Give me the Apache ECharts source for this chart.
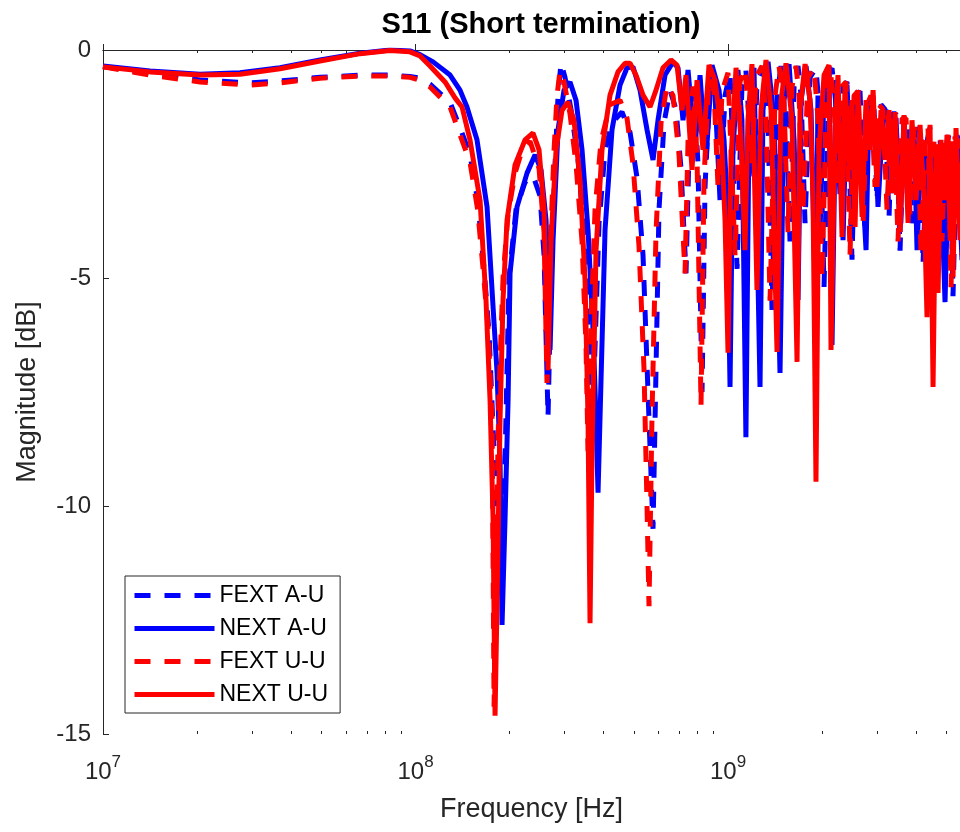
<!DOCTYPE html>
<html><head><meta charset="utf-8">
<script src="https://cdn.jsdelivr.net/npm/echarts@6/dist/echarts.min.js"></script>
<style>html,body{margin:0;padding:0;background:#fff}#c{width:960px;height:832px}</style>
</head><body><div id="c"></div>
<script>
// Frequencies in MHz, magnitudes in dB
const seriesNames = ['FEXT A-U', 'NEXT A-U', 'FEXT U-U', 'NEXT U-U'];

const fextAU = [[10,-0.36],[14.14,-0.52],[20.44,-0.66],[29.54,-0.72],[36.85,-0.68],[49.48,-0.60],[66.44,-0.55],[82.85,-0.55],[96.0,-0.58],[103.4,-0.62],[111.3,-0.75],[129.0,-1.15],[138.8,-1.70],[149.4,-2.30],[158.1,-3.30],[165.7,-4.80],[171.9,-6.20],[177.1,-8.30],[182.4,-10.0],[189.2,-12.0],[193.4,-9.0],[199.2,-5.0],[209.7,-3.5],[224.1,-2.9],[237.7,-2.75],[250.3,-3.2],[257.8,-4.5],[265.5,-8.05],[271.5,-5.0],[279.6,-2.5],[285.8,-1.0],[292.2,-0.28],[300.9,-0.6],[314.5,-1.3],[331.1,-2.4],[346.1,-4.0],[359.1,-6.5],[367.2,-8.5],[375.4,-6.5],[386.6,-3.8],[404.1,-2.2],[425.4,-1.6],[457.9,-1.36],[485.7,-1.8],[511.5,-2.8],[534.6,-4.5],[554.6,-7.5],[575.5,-10.5],[588.3,-7.0],[601.4,-3.5],[624.1,-1.6],[652.3,-0.88],[681.7,-1.3],[707.3,-2.6],[733.9,-4.9],[750.3,-2.2],[778.4,-0.9],[801.7,-2.5],[825.7,-7.5],[844.2,-3.0],[875.9,-0.7],[908.8,-1.0],[942.9,-3.3],[978.3,-1.0],[1015,-0.5],[1069,-4.8],[1108,-0.8],[1141,-0.45],[1167,-1.5],[1211,-2.8],[1238,-0.7],[1294,-0.4],[1343,-1.5],[1383,-5.7],[1435,-1.0],[1478,-0.35],[1533,-1.2],[1579,-4.2],[1627,-0.8],[1675,-0.35],[1713,-1.0],[1764,-3.8],[1830,-0.6],[1912,-0.4],[1970,-1.5],[2029,-5.2],[2104,-0.5],[2152,-0.4],[2216,-1.2],[2283,-3.2],[2334,-0.8],[2403,-0.7],[2493,-4.6],[2569,-1.0],[2645,-0.9],[2745,-4.0],[2827,-1.2],[2912,-1.0],[2998,-3.3],[3088,-1.2],[3180,-1.3],[3275,-3.7],[3349,-1.4],[3449,-1.4],[3552,-4.4],[3659,-1.5],[3768,-1.5],[3880,-3.8],[3996,-1.7],[4116,-1.9],[4208,-4.7],[4333,-2.0],[4430,-1.7],[4530,-5.2],[4631,-2.0],[4769,-1.9],[4911,-4.4],[5021,-2.0],[5133,-1.8],[5247,-5.4],[5405,-1.9],[5525,-2.0],[5690,-4.6],[5947,-2.2]];

const nextAU = [[10,-0.35],[14.14,-0.46],[20.44,-0.53],[27.45,-0.50],[36.85,-0.39],[49.48,-0.22],[66.44,-0.07],[82.85,0.0],[96.0,-0.02],[103.4,-0.10],[113.8,-0.26],[129.0,-0.55],[138.8,-0.88],[146.1,-1.25],[157.3,-1.97],[169.4,-3.44],[177.1,-5.64],[182.4,-7.08],[186.4,-8.99],[189.2,-12.61],[193.4,-10.3],[197.8,-7.68],[200.7,-4.89],[211.3,-3.44],[227.4,-2.70],[241.3,-2.30],[252.2,-2.63],[261.6,-3.73],[269.5,-6.58],[275.5,-4.17],[285.8,-1.75],[298.7,-0.88],[312.2,-0.70],[326.3,-1.10],[341.1,-2.19],[356.5,-3.95],[369.9,-6.14],[378.2,-8.11],[383.8,-9.71],[392.3,-7.24],[404.1,-3.95],[425.4,-1.75],[451.2,-0.77],[475.2,-0.39],[496.6,-0.37],[522.9,-0.88],[550.6,-1.75],[575.5,-2.41],[597.0,-1.54],[628.7,-0.55],[666.9,-0.26],[691.8,-0.39],[717.8,-1.54],[744.8,-0.44],[784.2,-2.19],[813.6,-0.55],[850.4,-2.41],[888.8,-0.33],[935.9,-0.88],[971.1,-1.97],[992.8,-3.29],[1015,-7.39],[1037,-2.19],[1076,-0.44],[1108,-1.54],[1141,-8.49],[1167,-1.75],[1211,-0.39],[1266,-7.39],[1294,-1.32],[1343,-0.26],[1404,-1.54],[1467,-7.08],[1511,-1.10],[1568,-0.31],[1627,-1.97],[1675,-5.48],[1713,-1.10],[1777,-0.35],[1844,-1.32],[1912,-6.14],[1940,-1.0],[1970,-4.01],[2029,-0.88],[2104,-0.35],[2152,-6.47],[2216,-0.66],[2283,-1.54],[2334,-4.17],[2403,-0.77],[2493,-3.29],[2569,-0.99],[2645,-1.97],[2765,-4.39],[2827,-1.10],[2933,-1.32],[3020,-3.44],[3133,-1.43],[3227,-1.32],[3349,-3.14],[3449,-1.49],[3552,-3.99],[3659,-1.64],[3796,-2.63],[3938,-1.75],[4026,-4.39],[4146,-1.97],[4270,-2.41],[4365,-5.48],[4496,-2.08],[4631,-3.29],[4769,-2.19],[4948,-5.53],[5095,-2.08],[5247,-3.73],[5405,-1.86],[5607,-4.61],[5775,-1.97],[5947,-2.85]];

const fextUU = [[10,-0.37],[14.14,-0.55],[20.44,-0.70],[29.54,-0.77],[36.85,-0.72],[49.48,-0.62],[66.44,-0.57],[82.85,-0.57],[96.0,-0.60],[103.4,-0.66],[111.3,-0.81],[129.0,-1.25],[138.8,-1.86],[149.4,-2.46],[158.1,-3.50],[164.5,-4.80],[170.7,-6.10],[175.8,-8.10],[178.4,-14.4],[181.0,-11.0],[185.0,-7.5],[190.6,-5.0],[197.8,-3.6],[208.2,-2.7],[219.2,-2.2],[232.5,-2.0],[248.5,-2.6],[257.8,-4.0],[263.5,-7.3],[269.5,-4.5],[277.5,-2.2],[283.7,-1.0],[290.1,-0.45],[298.7,-0.7],[312.2,-1.4],[326.3,-2.5],[341.1,-4.2],[351.3,-6.5],[356.5,-8.8],[364.5,-6.0],[375.4,-3.5],[392.3,-2.0],[419.2,-1.2],[451.2,-1.1],[475.2,-1.5],[496.6,-2.5],[519.0,-4.3],[538.5,-7.0],[550.6,-10.0],[558.7,-12.2],[571.2,-8.0],[588.3,-4.0],[610.4,-1.6],[638.0,-0.77],[666.9,-1.0],[697.0,-2.3],[728.5,-4.9],[744.8,-2.0],[772.7,-0.8],[795.8,-2.3],[819.6,-7.8],[838.0,-2.8],[869.4,-0.6],[902.1,-0.9],[929.0,-3.0],[957,-0.9],[1000,-0.5],[1053,-4.5],[1092,-0.7],[1133,-0.4],[1158,-1.2],[1193,-2.5],[1229,-0.6],[1285,-0.35],[1323,-1.5],[1363,-5.5],[1414,-1.0],[1456,-0.35],[1511,-1.2],[1556,-4.0],[1603,-0.8],[1650,-0.35],[1688,-1.0],[1738,-3.5],[1803,-0.6],[1885,-0.4],[1941,-1.5],[1999,-5.0],[2074,-0.5],[2120,-0.4],[2183,-1.2],[2249,-3.0],[2317,-0.8],[2386,-0.7],[2457,-4.5],[2531,-1.0],[2607,-0.9],[2705,-3.8],[2786,-1.2],[2869,-1.0],[2954,-3.0],[3042,-1.2],[3133,-1.3],[3227,-3.5],[3324,-1.4],[3399,-1.4],[3500,-4.2],[3605,-1.5],[3712,-1.5],[3823,-3.6],[3938,-1.7],[4056,-1.9],[4146,-4.5],[4270,-2.0],[4365,-1.7],[4463,-5.0],[4562,-2.0],[4700,-1.9],[4840,-4.2],[4948,-2.0],[5059,-1.8],[5171,-5.2],[5326,-1.9],[5445,-2.0],[5607,-4.5],[5947,-2.2]];

const nextUU = [[10,-0.37],[14.14,-0.48],[20.44,-0.55],[27.45,-0.53],[36.85,-0.41],[49.48,-0.24],[66.44,-0.08],[82.85,-0.01],[96.0,-0.04],[103.4,-0.13],[111.3,-0.35],[124.3,-0.70],[133.8,-1.05],[140.9,-1.25],[149.4,-1.97],[160.9,-3.30],[168.1,-5.48],[173.2,-7.68],[177.1,-10.3],[179.7,-14.6],[182.4,-12.06],[186.4,-8.11],[190.6,-5.48],[196.3,-3.73],[208.2,-2.52],[224.1,-1.97],[237.7,-1.82],[248.5,-2.19],[257.8,-3.51],[265.5,-7.02],[271.5,-4.17],[281.7,-2.19],[294.4,-1.32],[307.6,-1.14],[321.5,-1.54],[336.1,-2.85],[348.7,-5.04],[356.5,-8.11],[361.8,-12.57],[367.2,-8.77],[378.2,-4.39],[395.2,-2.19],[419.2,-0.99],[444.6,-0.48],[468.2,-0.29],[485.7,-0.29],[507.7,-0.55],[534.6,-0.99],[562.9,-1.25],[588.3,-0.88],[619.4,-0.39],[657.1,-0.22],[686.8,-0.33],[712.5,-1.32],[733.9,-0.55],[767.0,-2.63],[795.8,-0.66],[831.8,-2.19],[869.4,-0.33],[908.8,-0.66],[949.9,-1.75],[978.3,-3.73],[1000,-6.64],[1022,-2.41],[1061,-0.39],[1100,-1.97],[1133,-4.39],[1158,-1.54],[1193,-0.31],[1238,-5.26],[1275,-1.32],[1323,-0.22],[1373,-1.32],[1435,-6.62],[1478,-1.10],[1533,-0.29],[1603,-1.54],[1663,-6.84],[1700,-1.32],[1764,-0.31],[1830,-1.10],[1871,-3.29],[1912,-9.47],[1955,-2.19],[2029,-0.55],[2104,-0.33],[2136,-6.58],[2200,-1.69],[2249,-0.55],[2317,-4.10],[2368,-0.77],[2439,-2.63],[2493,-1.10],[2550,-3.88],[2607,-0.88],[2685,-3.66],[2765,-1.10],[2848,-2.19],[2912,-0.88],[2998,-3.0],[3088,-1.32],[3180,-2.41],[3275,-1.32],[3349,-3.14],[3423,-1.36],[3552,-3.99],[3659,-1.43],[3768,-3.79],[3880,-1.54],[3996,-3.29],[4116,-1.64],[4239,-3.29],[4333,-5.86],[4430,-1.64],[4530,-7.39],[4631,-2.19],[4700,-5.33],[4804,-1.97],[4911,-3.29],[5021,-1.86],[5133,-3.95],[5190,-2.0],[5247,-4.98],[5365,-1.71],[5525,-4.17],[5690,-1.75],[5947,-3.29]];

const xMajorTicks = [1e7, 1e8, 1e9];
const xMinorTicks = [2e7,3e7,4e7,5e7,6e7,7e7,8e7,9e7,2e8,3e8,4e8,5e8,6e8,7e8,8e8,9e8,2e9,3e9,4e9,5e9];
const yTicks = [-15, -10, -5, 0];

const FONT = '"Liberation Sans", Arial, Helvetica, sans-serif';
const AX = '#262626';
const toHz = arr => arr.map(p => [p[0] * 1e6, p[1]]);

const chart = echarts.init(document.getElementById('c'), null, {renderer: 'canvas'});

const baseX = {type: 'log', logBase: 10, min: 1e7, max: 5.525e9, splitLine: {show: false}};
function xAx(pos, ticks, len, showLine, label) {
  return Object.assign({}, baseX, {
    position: pos,
    axisLine: {show: showLine, lineStyle: {color: AX, width: 1}},
    axisTick: {show: true, inside: true, length: len, customValues: ticks, lineStyle: {color: AX, width: 1}},
    axisLabel: label ? {
      show: true, customValues: ticks, margin: 20, hideOverlap: false,
      formatter: v => '{b|10}{s|' + Math.round(Math.log10(v)) + '}',
      rich: {
        b: {fontSize: 24, fontFamily: FONT, color: AX, lineHeight: 36},
        s: {fontSize: 17, fontFamily: FONT, color: AX, lineHeight: 16, verticalAlign: 'top'}
      }
    } : {show: false}
  });
}

const styles = [
  {color: '#0000FF', type: [16, 14]},
  {color: '#0000FF', type: 'solid'},
  {color: '#FF0000', type: [16, 14]},
  {color: '#FF0000', type: 'solid'}
];
const datas = [fextAU, nextAU, fextUU, nextUU];

const option = {
  animation: false,
  backgroundColor: '#fff',
  title: {
    text: 'S11 (Short termination)', left: 536, top: 5, textAlign: 'center',
    textStyle: {fontSize: 29, fontWeight: 'bold', fontFamily: FONT, color: '#000'}
  },
  grid: {left: 103, top: 50, right: 0, bottom: 98, containLabel: false},
  legend: {
    orient: 'vertical', left: 125, top: 576,
    padding: [8, 12, 7, 7], itemGap: 10, itemWidth: 80, itemHeight: 14,
    borderColor: AX, borderWidth: 1, backgroundColor: '#fff',
    itemStyle: {opacity: 0, borderWidth: 0},
    lineStyle: {width: 5},
    textStyle: {fontSize: 23, fontFamily: FONT, color: '#000'},
    data: seriesNames
  },
  xAxis: [
    Object.assign(xAx('bottom', xMajorTicks, 6, true, true), {
      name: 'Frequency [Hz]', nameLocation: 'middle', nameGap: 62,
      nameTextStyle: {fontSize: 27, fontFamily: FONT, color: AX}
    }),
    xAx('bottom', xMinorTicks, 3, false, false),
    xAx('top', xMajorTicks, 6, true, false),
    xAx('top', xMinorTicks, 3, false, false)
  ],
  yAxis: {
    type: 'value', min: -15, max: 0, interval: 5,
    axisLine: {show: true, lineStyle: {color: AX, width: 1}},
    axisTick: {show: true, inside: true, length: 6, customValues: yTicks, lineStyle: {color: AX}},
    axisLabel: {fontSize: 24, fontFamily: FONT, color: AX, margin: 12, customValues: yTicks},
    splitLine: {show: false},
    name: 'Magnitude [dB]', nameLocation: 'middle', nameGap: 62, nameRotate: 90,
    nameTextStyle: {fontSize: 27, fontFamily: FONT, color: AX}
  },
  series: seriesNames.map((n, i) => ({
    name: n, type: 'line', xAxisIndex: 0, yAxisIndex: 0,
    data: toHz(datas[i]), symbol: 'none', showSymbol: false, smooth: false,
    clip: true,
    lineStyle: {color: styles[i].color, width: 5, type: styles[i].type},
    itemStyle: {color: styles[i].color}
  }))
};
chart.setOption(option);
</script></body></html>
